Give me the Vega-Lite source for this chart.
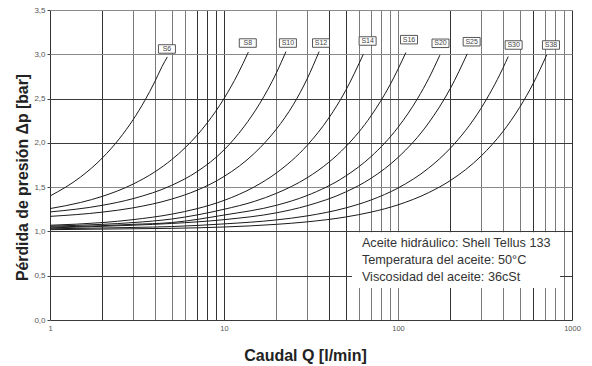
{
  "$schema": "https://vega.github.io/schema/vega-lite/v6.json",
  "width": 522,
  "height": 310,
  "autosize": {"type": "none"},
  "padding": {"left": 50, "top": 10, "right": 20, "bottom": 46},
  "background": "white",
  "view": {"stroke": null},
  "datasets": {
    "curves": [
      {"s":"S6","Q":1,"dp":1.40},{"s":"S6","Q":1.5,"dp":1.615},{"s":"S6","Q":2,"dp":1.83},{"s":"S6","Q":2.5,"dp":2.045},{"s":"S6","Q":3,"dp":2.26},{"s":"S6","Q":3.5,"dp":2.475},{"s":"S6","Q":4,"dp":2.69},{"s":"S6","Q":4.4,"dp":2.86},{"s":"S6","Q":4.72,"dp":2.97},
      {"s":"S8","Q":1,"dp":1.258},{"s":"S8","Q":1.5,"dp":1.327},{"s":"S8","Q":2,"dp":1.396},{"s":"S8","Q":3,"dp":1.534},{"s":"S8","Q":4,"dp":1.672},{"s":"S8","Q":5,"dp":1.81},{"s":"S8","Q":6,"dp":1.948},{"s":"S8","Q":7,"dp":2.086},{"s":"S8","Q":8,"dp":2.224},{"s":"S8","Q":10,"dp":2.50},{"s":"S8","Q":12,"dp":2.776},{"s":"S8","Q":13.8,"dp":3.024},
      {"s":"S10","Q":1,"dp":1.22},{"s":"S10","Q":2,"dp":1.295},{"s":"S10","Q":3,"dp":1.37},{"s":"S10","Q":5,"dp":1.52},{"s":"S10","Q":7,"dp":1.675},{"s":"S10","Q":10,"dp":1.92},{"s":"S10","Q":13,"dp":2.18},{"s":"S10","Q":16,"dp":2.44},{"s":"S10","Q":20,"dp":2.79},{"s":"S10","Q":22.7,"dp":3.03},
      {"s":"S12","Q":1,"dp":1.17},{"s":"S12","Q":2,"dp":1.218},{"s":"S12","Q":3,"dp":1.266},{"s":"S12","Q":5,"dp":1.365},{"s":"S12","Q":7,"dp":1.465},{"s":"S12","Q":10,"dp":1.62},{"s":"S12","Q":15,"dp":1.885},{"s":"S12","Q":20,"dp":2.155},{"s":"S12","Q":25,"dp":2.43},{"s":"S12","Q":30,"dp":2.72},{"s":"S12","Q":35.2,"dp":3.03},
      {"s":"S14","Q":1,"dp":1.07},{"s":"S14","Q":2,"dp":1.10},{"s":"S14","Q":3,"dp":1.133},{"s":"S14","Q":5,"dp":1.195},{"s":"S14","Q":7,"dp":1.257},{"s":"S14","Q":10,"dp":1.35},{"s":"S14","Q":15,"dp":1.505},{"s":"S14","Q":20,"dp":1.66},{"s":"S14","Q":30,"dp":1.97},{"s":"S14","Q":40,"dp":2.28},{"s":"S14","Q":50,"dp":2.59},{"s":"S14","Q":63.2,"dp":3.0},
      {"s":"S16","Q":1,"dp":1.06},{"s":"S16","Q":2,"dp":1.08},{"s":"S16","Q":3,"dp":1.10},{"s":"S16","Q":5,"dp":1.14},{"s":"S16","Q":10,"dp":1.25},{"s":"S16","Q":15,"dp":1.34},{"s":"S16","Q":20,"dp":1.43},{"s":"S16","Q":30,"dp":1.605},{"s":"S16","Q":40,"dp":1.78},{"s":"S16","Q":50,"dp":1.955},{"s":"S16","Q":70,"dp":2.305},{"s":"S16","Q":90,"dp":2.655},{"s":"S16","Q":111,"dp":3.02},
      {"s":"S20","Q":1,"dp":1.05},{"s":"S20","Q":2,"dp":1.065},{"s":"S20","Q":3,"dp":1.08},{"s":"S20","Q":5,"dp":1.10},{"s":"S20","Q":10,"dp":1.185},{"s":"S20","Q":20,"dp":1.295},{"s":"S20","Q":30,"dp":1.405},{"s":"S20","Q":50,"dp":1.625},{"s":"S20","Q":70,"dp":1.845},{"s":"S20","Q":100,"dp":2.175},{"s":"S20","Q":130,"dp":2.505},{"s":"S20","Q":150,"dp":2.725},{"s":"S20","Q":174,"dp":2.99},
      {"s":"S25","Q":1,"dp":1.04},{"s":"S25","Q":3,"dp":1.07},{"s":"S25","Q":5,"dp":1.09},{"s":"S25","Q":10,"dp":1.133},{"s":"S25","Q":20,"dp":1.21},{"s":"S25","Q":30,"dp":1.29},{"s":"S25","Q":50,"dp":1.445},{"s":"S25","Q":70,"dp":1.60},{"s":"S25","Q":100,"dp":1.835},{"s":"S25","Q":150,"dp":2.225},{"s":"S25","Q":200,"dp":2.615},{"s":"S25","Q":250,"dp":3.005},
      {"s":"S30","Q":1,"dp":1.03},{"s":"S30","Q":3,"dp":1.045},{"s":"S30","Q":5,"dp":1.055},{"s":"S30","Q":10,"dp":1.085},{"s":"S30","Q":20,"dp":1.13},{"s":"S30","Q":30,"dp":1.175},{"s":"S30","Q":50,"dp":1.265},{"s":"S30","Q":70,"dp":1.355},{"s":"S30","Q":100,"dp":1.49},{"s":"S30","Q":150,"dp":1.715},{"s":"S30","Q":200,"dp":1.94},{"s":"S30","Q":300,"dp":2.39},{"s":"S30","Q":400,"dp":2.84},{"s":"S30","Q":430,"dp":2.975},
      {"s":"S38","Q":1,"dp":1.02},{"s":"S38","Q":3,"dp":1.03},{"s":"S38","Q":5,"dp":1.035},{"s":"S38","Q":10,"dp":1.05},{"s":"S38","Q":20,"dp":1.08},{"s":"S38","Q":30,"dp":1.108},{"s":"S38","Q":50,"dp":1.163},{"s":"S38","Q":70,"dp":1.218},{"s":"S38","Q":100,"dp":1.30},{"s":"S38","Q":150,"dp":1.438},{"s":"S38","Q":200,"dp":1.575},{"s":"S38","Q":300,"dp":1.85},{"s":"S38","Q":400,"dp":2.125},{"s":"S38","Q":500,"dp":2.40},{"s":"S38","Q":600,"dp":2.675},{"s":"S38","Q":716,"dp":2.994}
    ],
    "labels": [
      {"s":"S6","Q":4.70,"dp":3.06},
      {"s":"S8","Q":13.7,"dp":3.127},
      {"s":"S10","Q":23.3,"dp":3.127},
      {"s":"S12","Q":36.1,"dp":3.127},
      {"s":"S14","Q":66.9,"dp":3.15},
      {"s":"S16","Q":115.7,"dp":3.165},
      {"s":"S20","Q":175.5,"dp":3.124},
      {"s":"S25","Q":265,"dp":3.142},
      {"s":"S30","Q":462,"dp":3.105},
      {"s":"S38","Q":757,"dp":3.105}
    ],
    "box": [{"Q":54.4,"Q2":853,"dp":0.36,"dp2":0.99}],
    "notes": [
      {"Q":62,"dp":0.824,"t":"Aceite hidráulico: Shell Tellus 133"},
      {"Q":62,"dp":0.632,"t":"Temperatura del aceite: 50°C"},
      {"Q":62,"dp":0.44,"t":"Viscosidad del aceite: 36cSt"}
    ]
  },
  "encoding": {
    "x": {
      "field": "Q", "type": "quantitative",
      "scale": {"type": "log", "domain": [1, 1000]},
      "axis": {
        "title": "Caudal Q [l/min]",
        "values": [1,2,3,4,5,6,7,8,9,10,20,30,40,50,60,70,80,90,100,200,300,400,500,600,700,800,900,1000],
        "labelExpr": "indexof([1,10,100,1000], datum.value) >= 0 ? format(datum.value, 'd') : ''",
        "labelOverlap": false,
        "labelFlush": false,
        "labelFont": "Liberation Sans",
        "labelFontSize": 7.5,
        "labelColor": "#555",
        "labelPadding": 4,
        "ticks": false,
        "domain": false,
        "grid": true,
        "gridColor": {"condition": {"test": "indexof([1,2,7,8,9,10,40,50,200,600,1000], datum.value) >= 0", "value": "#333"}, "value": "#7a7a7a"},
        "gridWidth": 1,
        "titleFont": "Liberation Sans",
        "titleFontSize": 16,
        "titleFontWeight": "bold",
        "titleColor": "#222",
        "titleX": 255,
        "titleY": 40,
        "titleAlign": "center",
        "titleBaseline": "alphabetic",
        "zindex": 0
      }
    },
    "y": {
      "field": "dp", "type": "quantitative",
      "scale": {"domain": [0, 3.5], "nice": false, "zero": false},
      "axis": {
        "title": "Pérdida de presión Δp [bar]",
        "values": [0, 0.5, 1, 1.5, 2, 2.5, 3, 3.5],
        "labelExpr": "replace(format(datum.value, '.1f'), '.', ',')",
        "labelFont": "Liberation Sans",
        "labelFontSize": 8,
        "labelColor": "#555",
        "labelPadding": 2,
        "tickSize": 3,
        "tickColor": "#444",
        "domain": false,
        "grid": true,
        "gridColor": {"condition": {"test": "datum.value == 1.5 || datum.value == 3 || datum.value == 3.5", "value": "#8a8a8a"}, "value": "#3a3a3a"},
        "gridWidth": 1,
        "titleFont": "Liberation Sans",
        "titleFontSize": 15.8,
        "titleFontWeight": "bold",
        "titleColor": "#222",
        "titleAngle": -90,
        "titleX": -23,
        "titleY": 167,
        "titleAlign": "center",
        "titleBaseline": "alphabetic",
        "zindex": 0
      }
    }
  },
  "layer": [
    {
      "data": {"name": "box"},
      "mark": {"type": "rect", "fill": "white", "stroke": null},
      "encoding": {"x2": {"field": "Q2"}, "y2": {"field": "dp2"}}
    },
    {
      "data": {"name": "curves"},
      "mark": {"type": "line", "interpolate": "monotone", "color": "#1a1a1a", "strokeWidth": 1},
      "encoding": {"detail": {"field": "s"}}
    },
    {
      "data": {"name": "labels"},
      "mark": {"type": "point", "shape": "M-1,-0.5L1,-0.5L1,0.5L-1,0.5Z", "size": 289, "filled": false, "fill": "white", "fillOpacity": 1, "stroke": "#444", "strokeWidth": 0.9, "opacity": 1}
    },
    {
      "data": {"name": "labels"},
      "mark": {"type": "text", "font": "Liberation Sans", "fontSize": 7, "color": "#444", "align": "center", "baseline": "middle"},
      "encoding": {"text": {"field": "s"}}
    },
    {
      "data": {"name": "notes"},
      "mark": {"type": "text", "font": "Liberation Sans", "fontSize": 12.7, "color": "#333", "align": "left", "baseline": "alphabetic"},
      "encoding": {"text": {"field": "t"}}
    }
  ]
}
